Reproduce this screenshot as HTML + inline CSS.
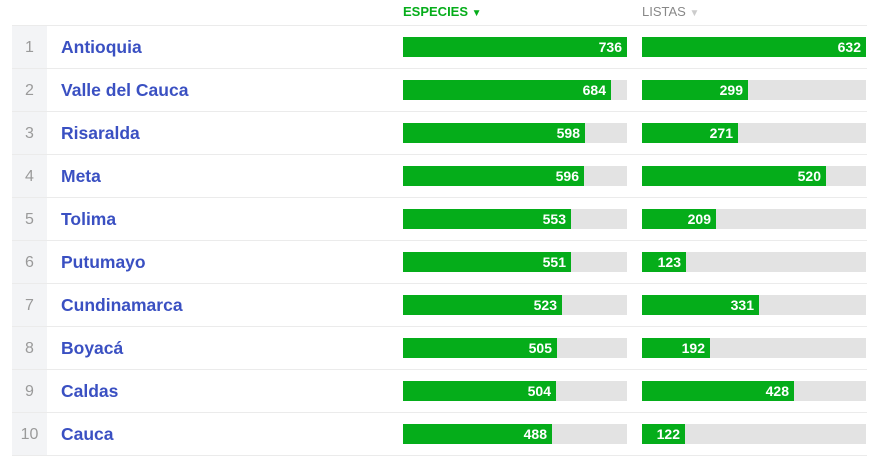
<!DOCTYPE html>
<html><head><meta charset="utf-8"><style>
body{margin:0;width:885px;height:456px;background:#fff;font-family:"Liberation Sans",Arial,sans-serif;position:relative;overflow:hidden}
.h{position:absolute;top:4px;font-size:13px}
.gc{position:absolute;left:12px;top:25px;width:35px;height:431px;background:#f3f4f6}
.ln{position:absolute;left:12px;width:855px;height:1px;background:#ebebeb}
.n{position:absolute;left:12px;width:35px;text-align:center;color:#9a9a9a;font-size:16px}
.nm{position:absolute;left:61px;color:#3a50c2;font-weight:bold;font-size:17.5px}
.bg{position:absolute;height:20px;width:224px;background:#e3e3e3}
.b{position:absolute;left:0;top:0;height:20px;background:#05ad1a;color:#fff;font-weight:bold;font-size:14px;line-height:20px;text-align:right;box-sizing:border-box;padding-right:5px}
</style></head><body>
<div class="h" style="left:403px;color:#05ad1a;font-weight:bold">ESPECIES <span style="font-size:10px">▼</span></div>
<div class="h" style="left:642px;color:#888">LISTAS <span style="font-size:10px;color:#ccc">▼</span></div>
<div class="gc"></div>
<div id="rows"></div>
<script>
var d=[["Antioquia",736,632],["Valle del Cauca",684,299],["Risaralda",598,271],["Meta",596,520],["Tolima",553,209],["Putumayo",551,123],["Cundinamarca",523,331],["Boyacá",505,192],["Caldas",504,428],["Cauca",488,122]];
var h='';
h+='<div class="ln" style="top:25px"></div>';
d.forEach(function(r,i){var t=25+43*i;
h+='<div class="ln" style="top:'+(t+43)+'px"></div>';
h+='<div class="n" style="top:'+(t+14)+'px">'+(i+1)+'</div>';
h+='<div class="nm" style="top:'+(t+12)+'px">'+r[0]+'</div>';
h+='<div class="bg" style="left:403px;top:'+(t+12)+'px"><div class="b" style="width:'+Math.round(r[1]/736*224)+'px">'+r[1]+'</div></div>';
h+='<div class="bg" style="left:642px;top:'+(t+12)+'px"><div class="b" style="width:'+Math.round(r[2]/632*224)+'px">'+r[2]+'</div></div>';
});
document.getElementById('rows').innerHTML=h;
</script>
</body></html>
